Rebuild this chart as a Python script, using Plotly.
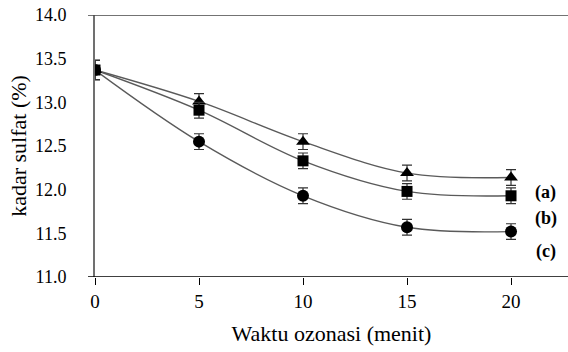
import plotly.graph_objects as go

x = [0, 5, 10, 15, 20]
a_vals = [13.37, 13.01, 12.55, 12.19, 12.14]
b_vals = [13.37, 12.91, 12.33, 11.98, 11.93]
c_vals = [13.37, 12.55, 11.93, 11.57, 11.52]
err = [0.11, 0.09, 0.09, 0.09, 0.09]
series = [("(a)", a_vals, "triangle-up"), ("(b)", b_vals, "square"), ("(c)", c_vals, "circle")]
label_y = [11.97, 11.67, 11.29]
y_ticks = [11, 11.5, 12, 12.5, 13, 13.5, 14]

FONT = "Liberation Serif"
fig = go.Figure()
for name, vals, sym in series:
    fig.add_trace(go.Scatter(x=x, y=vals, mode="lines", line=dict(color="#5a5a5a", width=1.4, shape="spline", smoothing=1.0),
                             showlegend=False, hoverinfo="skip"))
for name, vals, sym in [series[2], series[0], series[1]]:
    fig.add_trace(go.Scatter(x=x, y=vals, mode="markers",
                             marker=dict(symbol=sym, size=12 if sym != "square" else 11, color="black"),
                             error_y=dict(type="data", array=err, color="#333333", thickness=1.2, width=5),
                             showlegend=False, name=name))

for (name, vals, sym), ly in zip(series, label_y):
    fig.add_annotation(x=21.68, y=ly, text="<b>%s</b>" % name, showarrow=False, xanchor="center", yanchor="middle",
                       font=dict(family=FONT, size=18, color="black"))

fig.update_layout(
    width=568, height=352, margin=dict(l=95, r=0, t=15, b=75),
    paper_bgcolor="white", plot_bgcolor="white",
)
fig.update_xaxes(range=[0, 22.74], tickvals=x, ticks="outside", ticklen=7, tickcolor="black",
                 showline=False, showgrid=False, zeroline=False,
                 tickfont_family=FONT, tickfont_size=19, tickfont_color="black",
                 title_text="Waktu ozonasi (menit)", title_standoff=14,
                 title_font_family=FONT, title_font_size=22, title_font_color="black")
fig.update_yaxes(range=[11, 14], tickvals=y_ticks, tickformat=".1f",
                 ticks="", showline=True, linecolor="#707070", linewidth=2, showgrid=False, zeroline=False,
                 ticklabelstandoff=23,
                 tickfont_family=FONT, tickfont_size=18, tickfont_color="black",
                 title_text="kadar sulfat (%)", title_standoff=2,
                 title_font_family=FONT, title_font_size=22, title_font_color="black")
for yv, col in [(11, "black"), (14, "#444444")]:
    fig.add_shape(type="line", xref="paper", yref="y", x0=-7/473, x1=1, y0=yv, y1=yv,
                  line=dict(color=col, width=1.5))

fig.write_html("out.html")
